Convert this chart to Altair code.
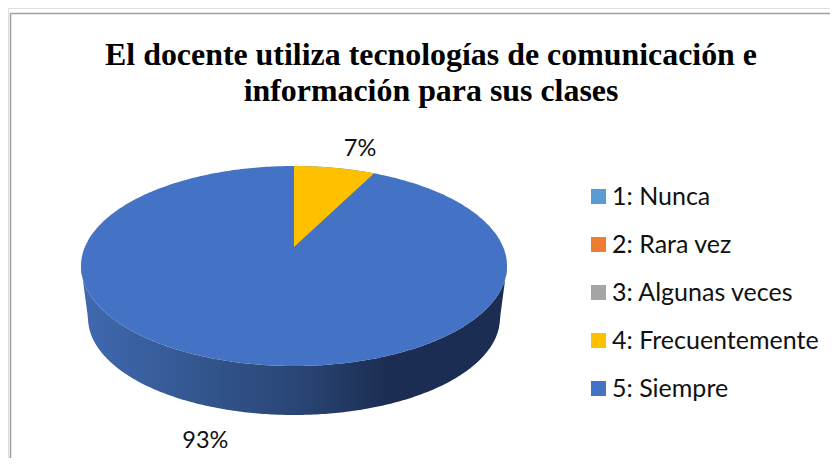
import numpy as np
import pandas as pd
import altair as alt

TITLE = ["El docente utiliza tecnologías de comunicación e",
         "información para sus clases"]
categories = ["1: Nunca", "2: Rara vez", "3: Algunas veces", "4: Frecuentemente", "5: Siempre"]
shares = [0.0, 0.0, 0.0, 7.4, 92.6]
colors = ["#5B9BD5", "#ED7D31", "#A5A5A5", "#FFC000", "#4472C4"]

# Tilted-pie projection, in pixels of the plot
W, H = 822, 450
CX, CY = 294, 247            # page position of the pie's hub
XD = [8 - CX, 8 + W - CX]
YD = [CY - (8 + H), CY - 8]
RX, TOP, BOTTOM = 213, 81, 119   # half width, rim behind and in front of the hub
MID = (TOP - BOTTOM) / 2
RY = (TOP + BOTTOM) / 2
RX2, RY2, FLOOR = 206, 97, 168   # lower rim: half width, half height, lowest point below the hub
K = (BOTTOM - TOP) / (BOTTOM + TOP)
H0 = TOP * (1 + K)
S = RX * np.sqrt(1 - K * K)


def project(theta):
    d = 1 + K * np.cos(theta)
    return S * np.sin(theta) / d, H0 * np.cos(theta) / d


def rim(x, sign):
    return MID + sign * RY * np.sqrt(np.clip(1 - (x / RX) ** 2, 0, 1))


xs = RX * np.sin(np.linspace(-np.pi / 2, np.pi / 2, 241))

# top face
face = pd.DataFrame({"x": xs, "yt": rim(xs, 1), "yb": rim(xs, -1), "cat": categories[4]})

# wedge of the yellow slice
end = np.radians(shares[3] * 3.6)
ex, ey = project(end)
wx = np.linspace(0, ex, 60)
wedge = pd.DataFrame({"x": wx, "yt": rim(wx, 1), "yb": ey * wx / ex, "cat": categories[3]})

# side wall
edge_y = -FLOOR + RY2
lower = np.where(
    np.abs(xs) <= RX2,
    edge_y - RY2 * np.sqrt(np.clip(1 - (xs / RX2) ** 2, 0, 1)),
    MID + (edge_y - MID) * (RX - np.abs(xs)) / (RX - RX2),
)
wall = pd.DataFrame({"x": xs, "yt": rim(xs, -1), "yb": lower})

# data labels
labels = []
for name, start, stop in [(shares[3], 0.0, end), (shares[4], end, 2 * np.pi)]:
    px, py = project((start + stop) / 2)
    labels.append({
        "x": 1.55 * px + 3,
        "yt": 1.235 * py - (52 if py < 0 else 0),
        "t": f"{round(name):d}%",
    })
labels = pd.DataFrame(labels)

x_enc = alt.X("x:Q", scale=alt.Scale(domain=XD, nice=False, zero=False), axis=None)
y_enc = alt.Y("yt:Q", scale=alt.Scale(domain=YD, nice=False, zero=False), axis=None)
y2_enc = alt.Y2("yb")

gradient = alt.Gradient(
    gradient="linear", x1=0, x2=1, y1=0, y2=0,
    stops=[
        alt.GradientStop(color="#4069B0", offset=0),
        alt.GradientStop(color="#33568F", offset=0.28),
        alt.GradientStop(color="#294474", offset=0.52),
        alt.GradientStop(color="#1B2D52", offset=0.72),
        alt.GradientStop(color="#1B2D52", offset=1),
    ],
)

wall_layer = alt.Chart(wall).mark_area(color=gradient).encode(x=x_enc, y=y_enc, y2=y2_enc)

color_enc = alt.Color(
    "cat:N",
    scale=alt.Scale(domain=categories, range=colors),
    legend=alt.Legend(
        title=None, orient="none", legendX=578, legendY=176,
        symbolType="square", symbolSize=225, symbolStrokeWidth=0,
        labelFont="Lato", labelFontSize=25, labelColor="#111111",
        labelOffset=1, rowPadding=22, labelLimit=300,
    ),
)
face_layer = alt.Chart(face).mark_area().encode(x=x_enc, y=y_enc, y2=y2_enc, color=color_enc)
wedge_layer = alt.Chart(wedge).mark_area().encode(x=x_enc, y=y_enc, y2=y2_enc, color=color_enc)

text_layer = alt.Chart(labels).mark_text(font="Lato", fontSize=23.5, color="#111111").encode(
    x=x_enc, y=y_enc, text="t:N"
)

frame_top = alt.Chart(pd.DataFrame({"a": [0]})).mark_rule(color="#A0A0A0", strokeWidth=1.5).encode(
    x=alt.value(2), x2=alt.value(W), y=alt.value(5.5)
)
frame_left = alt.Chart(pd.DataFrame({"a": [0]})).mark_rule(color="#A0A0A0", strokeWidth=1.5).encode(
    x=alt.value(2.5), y=alt.value(5.5), y2=alt.value(H)
)

chart = alt.layer(frame_top, frame_left, wall_layer, face_layer, wedge_layer, text_layer).properties(
    width=W, height=H,
    title=alt.TitleParams(
        text=TITLE, font="Liberation Serif", fontSize=31.9, fontWeight="bold", color="black",
        anchor="middle", lineHeight=36, dx=12, dy=125, baseline="alphabetic", offset=0,
    ),
    padding=0,
    autosize=alt.AutoSizeParams(type="none"),
).configure_view(stroke=None).configure(background="white")

chart.save("out.html", embed_options={"renderer": "svg", "actions": False})
